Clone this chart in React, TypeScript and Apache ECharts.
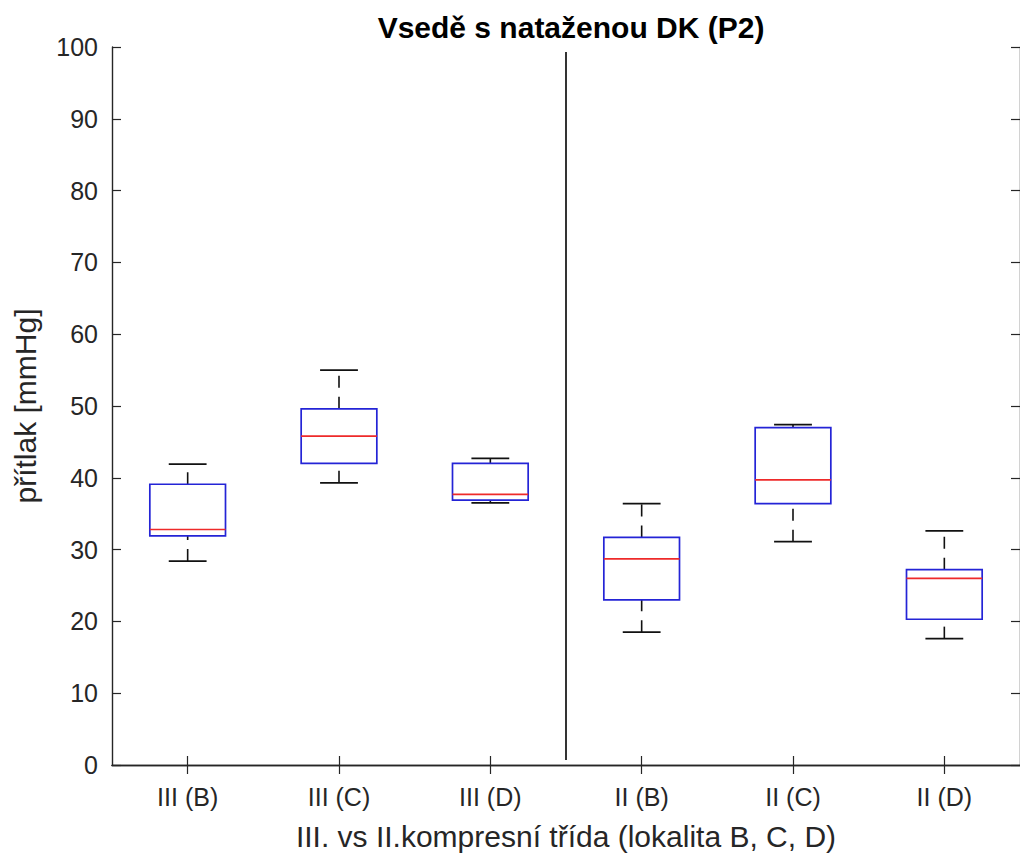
import React, { useEffect, useRef } from "react";
import * as echarts from "echarts";

const categories = ["III (B)", "III (C)", "III (D)", "II (B)", "II (C)", "II (D)"];
const lowerWhisker = [28.4, 39.3, 36.5, 18.5, 31.1, 17.6];
const q1 = [31.9, 42.0, 36.9, 23.0, 36.4, 20.3];
const median = [32.8, 45.8, 37.7, 28.7, 39.7, 26.0];
const q3 = [39.1, 49.6, 42.0, 31.7, 47.0, 27.2];
const upperWhisker = [41.9, 55.0, 42.7, 36.4, 47.4, 32.6];
const separatorX = 3.5;
const separatorY = [0.7, 99.3];

const yMin = 0;
const yMax = 100;
const yInterval = 10;

const FONT = "Liberation Sans";
const AXIS_COLOR = "#262626";

export default function App() {
  const ref = useRef<HTMLDivElement>(null);

  useEffect(() => {
    if (!ref.current) return;
    const chart = echarts.init(ref.current, null, { renderer: "svg" });

    const boxData = categories.map((_, i) => [
      i + 1,
      lowerWhisker[i],
      q1[i],
      median[i],
      q3[i],
      upperWhisker[i],
    ]);

    const blue = "#2424d6";
    const red = "#ee2a2a";

    const option: any = {
      animation: false,
      backgroundColor: "#ffffff",
      title: {
        text: "Vsedě s nataženou DK (P2)",
        left: 566,
        top: 7,
        textAlign: "center",
        textStyle: {
          fontFamily: FONT,
          fontSize: 30,
          fontWeight: "bold",
          color: "#000000",
        },
      },
      grid: { left: 112, right: 0, top: 47, bottom: 91, containLabel: false },
      xAxis: [
        {
          type: "category",
          data: categories,
          position: "bottom",
          boundaryGap: true,
          name: "III. vs II.kompresní třída (lokalita B, C, D)",
          nameLocation: "middle",
          nameGap: 56,
          nameTextStyle: { fontFamily: FONT, fontSize: 30, color: AXIS_COLOR },
          axisLine: { show: true, lineStyle: { color: AXIS_COLOR, width: 1.4 } },
          axisTick: { show: true, inside: true, length: 9, alignWithLabel: true, lineStyle: { color: AXIS_COLOR, width: 1.2 } },
          axisLabel: { fontFamily: FONT, fontSize: 25, color: AXIS_COLOR, margin: 19 },
          splitLine: { show: false },
        },
        {
          type: "category",
          data: categories,
          position: "top",
          boundaryGap: true,
          axisLine: { show: true, lineStyle: { color: AXIS_COLOR, width: 1.4 } },
          axisTick: { show: true, inside: true, length: 9, alignWithLabel: true, lineStyle: { color: AXIS_COLOR, width: 1.2 } },
          axisLabel: { show: false },
          splitLine: { show: false },
        },
        {
          type: "value",
          min: 0.5,
          max: 6.5,
          show: false,
          splitLine: { show: false },
        },
      ],
      yAxis: [
        {
          type: "value",
          min: yMin,
          max: yMax,
          interval: yInterval,
          position: "left",
          name: "přítlak [mmHg]",
          nameLocation: "middle",
          nameGap: 72,
          nameRotate: 90,
          nameTextStyle: { fontFamily: FONT, fontSize: 30, color: AXIS_COLOR },
          axisLine: { show: true, lineStyle: { color: AXIS_COLOR, width: 1.4 } },
          axisTick: { show: true, inside: true, length: 9, lineStyle: { color: AXIS_COLOR, width: 1.2 } },
          axisLabel: { fontFamily: FONT, fontSize: 25, color: AXIS_COLOR, margin: 14 },
          splitLine: { show: false },
        },
        {
          type: "value",
          min: yMin,
          max: yMax,
          interval: yInterval,
          position: "right",
          axisLine: { show: true, lineStyle: { color: AXIS_COLOR, width: 1.4 } },
          axisTick: { show: true, inside: true, length: 9, lineStyle: { color: AXIS_COLOR, width: 1.2 } },
          axisLabel: { show: false },
          splitLine: { show: false },
        },
      ],
      series: [
        {
          type: "custom",
          xAxisIndex: 2,
          yAxisIndex: 0,
          data: boxData,
          encode: { x: 0, y: [1, 2, 3, 4, 5] },
          renderItem: (params: any, api: any) => {
            const x = api.value(0);
            const band = api.size([1, 0])[0];
            const half = band * 0.25;
            const capHalf = band * 0.125;
            const pLo = api.coord([x, api.value(1)]);
            const pQ1 = api.coord([x, api.value(2)]);
            const pMed = api.coord([x, api.value(3)]);
            const pQ3 = api.coord([x, api.value(4)]);
            const pHi = api.coord([x, api.value(5)]);
            const cx = pQ1[0];
            const whiskerStyle = { stroke: "#111111", lineWidth: 1.6, lineDash: [12, 9], fill: null };
            const capStyle = { stroke: "#111111", lineWidth: 1.7, fill: null };
            return {
              type: "group",
              children: [
                { type: "line", shape: { x1: cx, y1: pLo[1], x2: cx, y2: pQ1[1] }, style: whiskerStyle },
                { type: "line", shape: { x1: cx, y1: pQ3[1], x2: cx, y2: pHi[1] }, style: whiskerStyle },
                { type: "line", shape: { x1: cx - capHalf, y1: pLo[1], x2: cx + capHalf, y2: pLo[1] }, style: capStyle },
                { type: "line", shape: { x1: cx - capHalf, y1: pHi[1], x2: cx + capHalf, y2: pHi[1] }, style: capStyle },
                {
                  type: "rect",
                  shape: { x: cx - half, y: pQ3[1], width: half * 2, height: pQ1[1] - pQ3[1] },
                  style: { fill: "none", stroke: blue, lineWidth: 1.7 },
                },
                {
                  type: "line",
                  shape: { x1: cx - half, y1: pMed[1], x2: cx + half, y2: pMed[1] },
                  style: { stroke: red, lineWidth: 1.7, fill: null },
                },
              ],
            };
          },
        },
        {
          type: "line",
          xAxisIndex: 2,
          yAxisIndex: 0,
          data: [
            [separatorX, separatorY[0]],
            [separatorX, separatorY[1]],
          ],
          symbol: "none",
          lineStyle: { color: "#000000", width: 1.6 },
          silent: true,
        },
      ],
    };

    chart.setOption(option);
    return () => chart.dispose();
  }, []);

  return (
    <div
      ref={ref}
      style={{ position: "absolute", left: 0, top: 0, width: 1020, height: 856, background: "#fff" }}
    />
  );
}
